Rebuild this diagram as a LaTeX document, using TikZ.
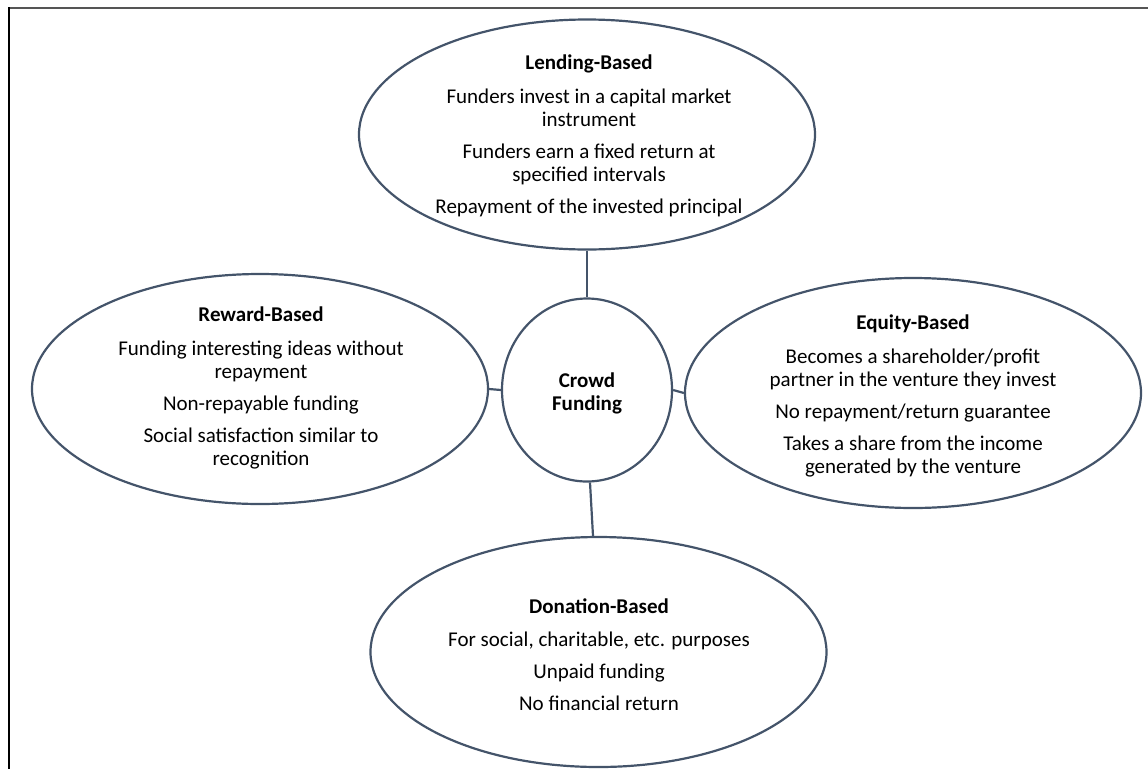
\documentclass[tikz,border=0pt]{standalone}
\usepackage{fontspec}
\setmainfont{Carlito}
\usetikzlibrary{shapes.geometric}
\definecolor{edgec}{HTML}{44546A}
\definecolor{topc}{HTML}{555555}
\begin{document}
\begin{tikzpicture}[x=1pt,y=-1pt,
  oval/.style={ellipse,draw=edgec,line width=2.2pt,inner sep=0pt,minimum width=456pt,minimum height=230pt},
  hub/.style={ellipse,draw=edgec,line width=2.2pt,inner sep=0pt,minimum width=170pt,minimum height=183pt},
  txt/.style={align=center,inner sep=0pt,font=\fontsize{21}{23}\selectfont},
  conn/.style={draw=edgec,line width=2.2pt}]
\useasboundingbox (0,0) rectangle (1148,769);
\draw[topc,line width=1.2pt] (9,8) -- (1148,8);
\draw[black,line width=2.2pt] (9,7.4) -- (9,769);

\node[oval] (lend) at (587,134.5) {};
\node[oval] (rew) at (260,389) {};
\node[oval] (equ) at (913,393) {};
\node[oval] (don) at (598.5,652) {};
\node[hub] (crowd) at (587,390) {};

\node[txt] (lendt) at (589,136) {\textbf{Lending-Based}\\[11pt]Funders invest in a capital market\\instrument\\[9pt]Funders earn a fixed return at\\specified intervals\\[9pt]Repayment of the invested principal};
\node[txt] (rewt) at (261,388) {\textbf{Reward-Based}\\[11pt]Funding interesting ideas without\\repayment\\[9pt]Non-repayable funding\\[9pt]Social satisfaction similar to\\recognition};
\node[txt] (equt) at (913,396) {\textbf{Equity-Based}\\[11pt]Becomes a shareholder/profit\\partner in the venture they invest\\[9pt]No repayment/return guarantee\\[9pt]Takes a share from the income\\generated by the venture};
\node[txt] (dont) at (599,655) {\textbf{Donation-Based}\\[10pt]For social, charitable, etc. purposes\\[9pt]Unpaid funding\\[9pt]No financial return};
\node[txt] (crowdt) at (587,393) {\textbf{Crowd}\\\textbf{Funding}};

\draw[conn] (lend.south) -- (crowd.north);
\draw[conn] (rew.east) -- (crowd.west);
\draw[conn] (crowd.east) -- (equ.west);
\draw[conn] ([xshift=3pt]crowd.south) -- ([xshift=-5.5pt]don.north);
\end{tikzpicture}
\end{document}
